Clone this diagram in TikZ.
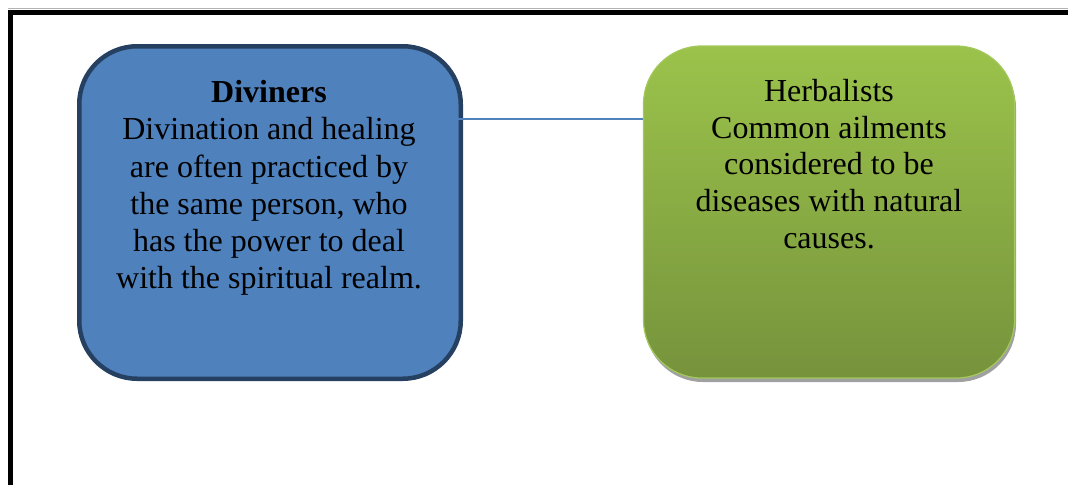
\documentclass[tikz,border=0pt]{standalone}
\usepackage{fontspec}
\setmainfont{Liberation Serif}
\usetikzlibrary{shadows}
\definecolor{divfill}{HTML}{4F81BD}
\definecolor{divline}{HTML}{254061}
\definecolor{herbtop}{HTML}{9BC34B}
\definecolor{herbbot}{HTML}{76933C}
\definecolor{herbline}{HTML}{A3C85C}
\definecolor{shadowgray}{HTML}{A0A0A0}
\tikzset{
  frameline/.style={line width=5pt, black, line join=miter},
  topshade/.style={line width=1.2pt, gray!60},
  divbox/.style={draw=divline, fill=divfill, line width=4.5pt, rounded corners=58pt,
    minimum width=381.5pt, minimum height=332.5pt, inner sep=0pt},
  herbbox/.style={draw=herbline, line width=1.2pt, top color=herbtop, bottom color=herbbot,
    rounded corners=58pt, minimum width=371pt, minimum height=332pt, inner sep=0pt,
    drop shadow={shadow xshift=1.5pt, shadow yshift=-4pt, fill=shadowgray, opacity=1}},
  txtblue/.style={font=\fontsize{32}{37.2}\selectfont, align=center, inner sep=0pt, anchor=north},
  txtgreen/.style={font=\fontsize{32}{36.6}\selectfont, align=center, inner sep=0pt, anchor=north},
  link/.style={draw=divfill, line width=1.6pt}
}
\begin{document}
\begin{tikzpicture}[x=1pt, y=-1pt]
\useasboundingbox (0,0) rectangle (1068,485);
\draw[topshade] (8,8.3) -- (1068,8.3);
\draw[frameline] (10.5,485) -- (10.5,12.5) -- (1068,12.5);
\node[divbox] (div) at (270,212.5) {};
\node[herbbox] (herb) at (829,212) {};
\coordinate (lk) at (0,119);
\draw[link] ([xshift=-11pt]div.east |- lk) -- (herb.west |- lk);
\node[txtblue] (divtxt) at (269,78.5) {\rule{0pt}{24pt}\textbf{Diviners}\\Divination and healing\\are often practiced by\\the same person, who\\has the power to deal\\with the spiritual realm.};
\node[txtgreen] (herbtxt) at (829,77.5) {\rule{0pt}{24pt}Herbalists\\Common ailments\\considered to be\\diseases with natural\\causes.};
\end{tikzpicture}
\end{document}
